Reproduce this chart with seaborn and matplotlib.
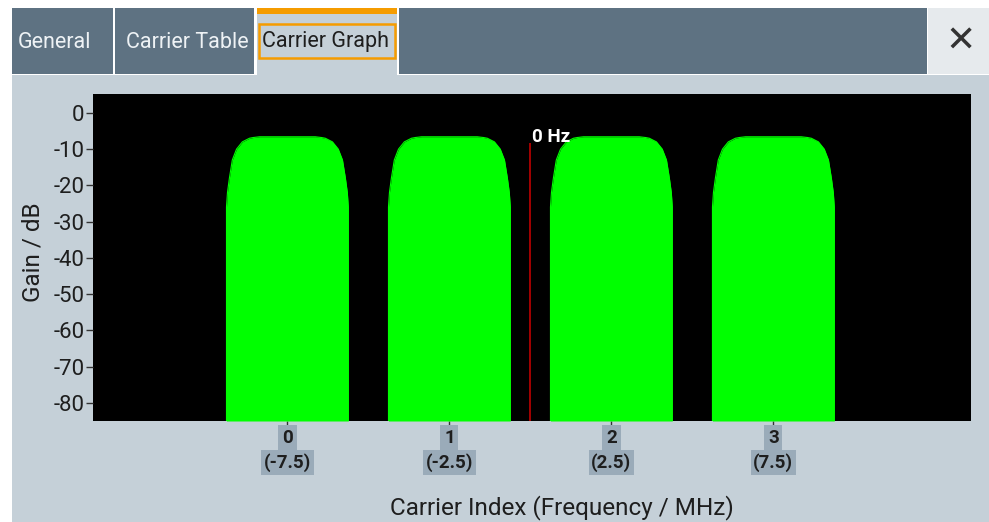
import numpy as np
import pandas as pd
import matplotlib
matplotlib.use("Agg")
import matplotlib.pyplot as plt
from matplotlib.patches import Rectangle
import seaborn as sns

# --- data ---
carrier_index = [0, 1, 2, 3]
carrier_freq_mhz = [-7.5, -2.5, 2.5, 7.5]
# half of one carrier's spectrum shape (offset from carrier centre, gain)
profile_offset_mhz = [0.0, 0.86, 1.05, 1.17, 1.39, 1.57, 1.70, 1.79, 1.85, 1.88, 1.88]
profile_gain_db = [-6.6, -6.6, -6.8, -7.0, -8.0, -10.0, -13.0, -18.0, -22.0, -26.0, -85.0]
y_ticks = [0, -10, -20, -30, -40, -50, -60, -70, -80]
tabs = ["General", "Carrier Table", "Carrier Graph"]

# --- colours ---
PANEL = "#c5d0d8"
TAB_DARK = "#5e7282"
ORANGE = "#f59c00"
GREEN = "#00ff00"
LABEL_BOX = "#9aabb9"
TXT = "#1e1e1e"

sns.set_theme(style="ticks")
plt.rcParams["font.family"] = ["Roboto", "DejaVu Sans"]

# build a long table of all carrier shapes
rows = []
off = np.array(profile_offset_mhz)
gain = np.array(profile_gain_db)
xs_half = np.concatenate([-off[::-1], off[1:]])
ys_half = np.concatenate([gain[::-1], gain[1:]])
for idx, fc in zip(carrier_index, carrier_freq_mhz):
    for x, y in zip(xs_half, ys_half):
        rows.append({"carrier": idx, "freq": fc + x, "gain": y})
df = pd.DataFrame(rows)

W, H = 989, 522
fig = plt.figure(figsize=(W / 100, H / 100), dpi=100, facecolor="white")

def px_rect(x0, y0, x1, y1, color, **kw):
    fig.patches.append(Rectangle((x0 / W, 1 - y1 / H), (x1 - x0) / W, (y1 - y0) / H,
                                 transform=fig.transFigure, facecolor=color,
                                 edgecolor=kw.pop("edgecolor", "none"), zorder=-5, **kw))

# panel + tab bar
px_rect(12, 75, 989, 522, PANEL)
px_rect(12, 8, 113, 74, TAB_DARK)
px_rect(115, 8, 254, 74, TAB_DARK)
px_rect(257, 8, 397, 75, PANEL)
px_rect(257, 8, 397, 14, ORANGE)
px_rect(259, 24, 395, 58, "none", edgecolor=ORANGE, linewidth=1.8, fill=False)
px_rect(399, 8, 927, 74, TAB_DARK)
px_rect(928, 8, 989, 74, "#e6eaed")

fig.text(18 / W, 1 - 42 / H, tabs[0], color="#eef2f5", fontsize=15.5, va="center")
fig.text(126 / W, 1 - 42 / H, tabs[1], color="#eef2f5", fontsize=15.5, va="center")
fig.text(262 / W, 1 - 42 / H, tabs[2], color=TXT, fontsize=15.5, va="center")
fig.text(961 / W, 1 - 42 / H, "\u2715", color="#333333", fontsize=26, fontweight="bold",
         family="DejaVu Sans", ha="center", va="center")

ax = fig.add_axes([93 / W, 1 - 421 / H, (971 - 93) / W, (421 - 94) / H])
ax.set_zorder(3)
ax.set_facecolor("black")

sns.lineplot(data=df, x="freq", y="gain", units="carrier", estimator=None, sort=False,
             color=GREEN, linewidth=0.8, legend=False, ax=ax)
for idx in carrier_index:
    sub = df[df["carrier"] == idx]
    ax.fill_between(sub["freq"], sub["gain"], -85, color=GREEN, linewidth=0)

ax.set_xlim(-13.5, 13.6)
ax.set_ylim(-85, 5.2)

# 0 Hz marker
ax.vlines(0, -85, -8.3, color="#c00000", linewidth=1.2)
ax.text(0.05, -6.6, "0 Hz", color="white", fontsize=13.5, fontweight="bold",
        va="center", ha="left")

for s in ax.spines.values():
    s.set_visible(False)

ax.set_yticks(y_ticks)
ax.set_yticklabels([str(t) for t in y_ticks], fontsize=16, color=TXT)
ax.tick_params(axis="y", length=5, width=1, color="#333333", pad=1)
ax.set_xticks(carrier_freq_mhz)
ax.set_xticklabels([])
ax.tick_params(axis="x", length=5, width=1, color="#333333")

for idx, fc in zip(carrier_index, carrier_freq_mhz):
    ax.annotate(str(idx), xy=(fc, 0), xycoords=("data", "axes fraction"),
                xytext=(0, -12), textcoords="offset points", ha="center", va="center",
                fontsize=13.5, fontweight="bold", color=TXT,
                bbox=dict(boxstyle="square,pad=0.2", facecolor=LABEL_BOX, edgecolor="none"))
    ax.annotate(f"({fc})", xy=(fc, 0), xycoords=("data", "axes fraction"),
                xytext=(0, -30), textcoords="offset points", ha="center", va="center",
                fontsize=13.5, fontweight="bold", color=TXT,
                bbox=dict(boxstyle="square,pad=0.15", facecolor=LABEL_BOX, edgecolor="none"))

ax.set_xlabel("")
ax.set_ylabel("")
fig.text(33 / W, 1 - 252 / H, "Gain / dB", rotation=90, fontsize=17.5, color=TXT,
         ha="center", va="center")
fig.text(562 / W, 1 - 508 / H, "Carrier Index (Frequency / MHz)", fontsize=17.5, color=TXT,
         ha="center", va="center")

fig.savefig("out.png", dpi=100, facecolor=fig.get_facecolor())
